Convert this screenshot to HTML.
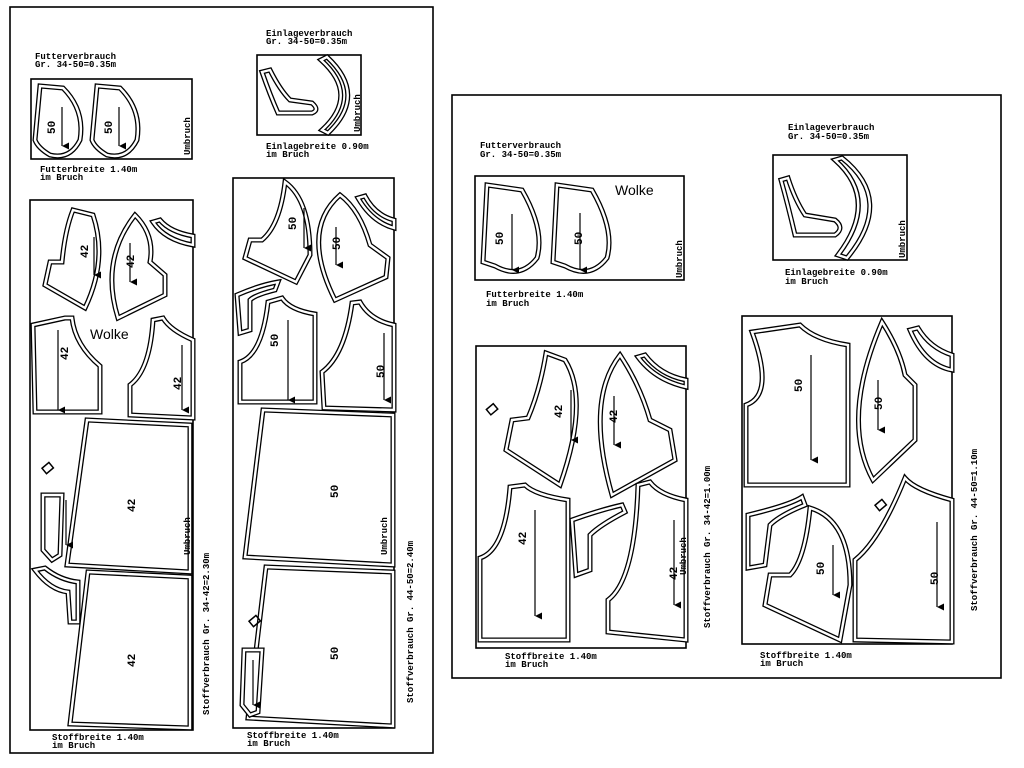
<!DOCTYPE html>
<html><head><meta charset="utf-8"><style>
body{margin:0;background:#fff;width:1024px;height:768px;overflow:hidden}
svg{display:block}
.o{fill:#fff;stroke:#000;stroke-width:5;stroke-linejoin:miter}
.i{fill:none;stroke:#fff;stroke-width:2.4}
.f{fill:none;stroke:#000;stroke-width:1.6}
.ar{stroke:#000;stroke-width:1.2;fill:none}
text{font-family:"Liberation Mono",monospace;font-weight:bold;fill:#000}
.t{font-size:9px}
.n{font-size:11px;font-family:"Liberation Sans",sans-serif;font-weight:normal}
.w{font-size:14px;font-family:"Liberation Sans",sans-serif;font-weight:normal}
</style></head><body>
<svg width="1024" height="768" viewBox="0 0 1024 768">
<defs>
<marker id="m" markerWidth="6" markerHeight="6" refX="3" refY="6" orient="auto-start-reverse" viewBox="0 0 6 6"><path d="M0,0 L3,6 L6,0 Z" fill="#000"/></marker>
<path id="a1" d="M40,86 L63,88 Q85,110 80,140 Q70,160 50,155 Q38,148 35,140 Z"/>
<path id="a2" d="M97,86 L120,88 Q142,110 137,140 Q127,160 107,155 Q95,148 92,140 Z"/>
<path id="b1" d="M262,72 L270,70 Q280,90 290,100 L312,103 Q320,110 312,113 L278,113 Q270,95 262,72 Z"/>
<path id="b2" d="M321,60 Q360,95 322,130 L328,133 Q368,95 327,57 Z"/>
<path id="c1" d="M73,210 L93,215 Q108,260 85,308 L45,285 L50,262 L62,262 Q65,230 73,210 Z"/>
<path id="c2" d="M135,215 Q155,235 150,262 L165,275 L165,295 L118,318 Q100,260 135,215 Z"/>
<path id="c3" d="M153,222 L160,220 Q170,232 193,236 L193,245 Q165,240 153,222 Z"/>
<path id="c4" d="M33,325 L65,318 L72,318 Q75,345 100,366 L100,412 L35,412 Z"/>
<path id="c5" d="M153,320 L163,318 Q170,330 193,340 L193,418 L130,415 L130,385 Q150,370 153,320 Z"/>
<path id="c6" d="M87,420 L190,425 L190,572 L67,565 Z"/>
<path id="c7" d="M88,572 L190,577 L190,728 L70,724 Z"/>
<path id="c8" d="M43,495 L62,495 L60,555 L52,560 L43,550 Z"/>
<path id="c9" d="M35,570 L45,568 Q60,580 78,582 L78,622 L70,622 L68,592 Q50,590 35,570 Z"/>
<path id="d1" d="M285,182 Q310,200 310,255 L296,282 L245,258 L250,240 L262,240 Q280,225 285,182 Z"/>
<path id="d2" d="M340,195 Q360,210 370,245 L388,258 L386,277 L335,300 Q300,230 340,195 Z"/>
<path id="d3" d="M358,198 L365,196 Q375,215 394,220 L394,228 Q372,222 358,198 Z"/>
<path id="d4" d="M237,295 Q260,285 278,282 L275,290 Q255,295 250,300 L250,330 L240,333 Z"/>
<path id="d5" d="M268,302 L282,298 Q290,310 315,314 L315,402 L240,402 L240,362 Q262,355 268,302 Z"/>
<path id="d6" d="M352,303 L360,302 Q370,320 394,325 L394,410 L324,408 L322,372 Q345,355 352,303 Z"/>
<path id="d7" d="M263,410 L393,415 L393,565 L245,557 Z"/>
<path id="d8" d="M266,567 L393,572 L393,726 L248,718 Z"/>
<path id="d9" d="M244,650 L262,650 L258,712 L250,715 L242,705 Z"/>
<path id="e1" d="M487,185 L522,190 Q545,230 537,258 Q520,280 495,266 L483,262 Z"/>
<path id="e2" d="M557,185 L592,190 Q615,230 607,258 Q590,280 565,266 L553,262 Z"/>
<path id="f1" d="M781,180 L788,178 Q795,200 805,215 L835,220 Q845,228 835,235 L795,235 Q788,205 781,180 Z"/>
<path id="f2" d="M835,160 Q880,200 838,255 L847,258 Q895,200 842,158 Z"/>
<path id="g1" d="M546,353 L565,360 Q590,400 560,485 L506,450 L512,420 L528,418 Q540,390 546,353 Z"/>
<path id="g2" d="M620,355 Q640,385 650,420 L670,430 L675,460 L612,495 Q585,400 620,355 Z"/>
<path id="g3" d="M638,357 L645,355 Q660,375 686,380 L686,387 Q655,380 638,357 Z"/>
<path id="g4" d="M510,487 L525,485 Q535,495 568,500 L568,640 L480,640 L480,558 Q505,550 510,487 Z"/>
<path id="g5" d="M572,520 Q600,510 622,505 L625,512 Q600,525 590,535 L590,570 L576,575 Z"/>
<path id="g6" d="M638,485 L650,482 Q660,495 686,500 L686,640 L608,632 L608,600 Q635,580 638,485 Z"/>
<path id="h1" d="M752,332 L800,325 Q815,340 848,345 L848,485 L746,485 L746,405 Q775,395 752,332 Z"/>
<path id="h2" d="M882,322 Q900,350 905,375 L915,385 L915,440 L873,480 Q840,420 882,322 Z"/>
<path id="h3" d="M910,330 L918,328 Q930,348 952,355 L952,370 Q925,365 910,330 Z"/>
<path id="h4" d="M748,515 Q790,505 802,497 L805,505 Q780,515 770,525 L765,565 L748,568 Z"/>
<path id="h5" d="M810,508 Q850,520 850,585 L840,640 L765,605 L770,575 L790,575 Q805,560 810,508 Z"/>
<path id="h6" d="M905,478 Q915,490 952,500 L952,642 L855,640 L855,560 Q880,540 905,478 Z"/>
</defs>
<rect x="10" y="7" width="423" height="746" class="f"/>
<rect x="452" y="95" width="549" height="583" class="f"/>
<rect x="31" y="79" width="161" height="80" class="f"/>
<rect x="257" y="55" width="104" height="80" class="f"/>
<rect x="30" y="200" width="163" height="530" class="f"/>
<rect x="233" y="178" width="161" height="550" class="f"/>
<rect x="475" y="176" width="209" height="104" class="f"/>
<rect x="773" y="155" width="134" height="105" class="f"/>
<rect x="476" y="346" width="210" height="302" class="f"/>
<rect x="742" y="316" width="210" height="328" class="f"/>
<g>
<use href="#a1" class="o"/><use href="#a1" class="i"/><use href="#a2" class="o"/><use href="#a2" class="i"/>
<use href="#b1" class="o"/><use href="#b1" class="i"/><use href="#b2" class="o"/><use href="#b2" class="i"/>
<use href="#c1" class="o"/><use href="#c1" class="i"/><use href="#c2" class="o"/><use href="#c2" class="i"/>
<use href="#c3" class="o"/><use href="#c3" class="i"/><use href="#c4" class="o"/><use href="#c4" class="i"/>
<use href="#c5" class="o"/><use href="#c5" class="i"/><use href="#c6" class="o"/><use href="#c6" class="i"/>
<use href="#c7" class="o"/><use href="#c7" class="i"/><use href="#c8" class="o"/><use href="#c8" class="i"/>
<use href="#c9" class="o"/><use href="#c9" class="i"/>
<use href="#d1" class="o"/><use href="#d1" class="i"/><use href="#d2" class="o"/><use href="#d2" class="i"/>
<use href="#d3" class="o"/><use href="#d3" class="i"/><use href="#d4" class="o"/><use href="#d4" class="i"/>
<use href="#d5" class="o"/><use href="#d5" class="i"/><use href="#d6" class="o"/><use href="#d6" class="i"/>
<use href="#d7" class="o"/><use href="#d7" class="i"/><use href="#d8" class="o"/><use href="#d8" class="i"/>
<use href="#d9" class="o"/><use href="#d9" class="i"/>
<use href="#e1" class="o"/><use href="#e1" class="i"/><use href="#e2" class="o"/><use href="#e2" class="i"/>
<use href="#f1" class="o"/><use href="#f1" class="i"/><use href="#f2" class="o"/><use href="#f2" class="i"/>
<use href="#g1" class="o"/><use href="#g1" class="i"/><use href="#g2" class="o"/><use href="#g2" class="i"/>
<use href="#g3" class="o"/><use href="#g3" class="i"/><use href="#g4" class="o"/><use href="#g4" class="i"/>
<use href="#g5" class="o"/><use href="#g5" class="i"/><use href="#g6" class="o"/><use href="#g6" class="i"/>
<use href="#h1" class="o"/><use href="#h1" class="i"/><use href="#h2" class="o"/><use href="#h2" class="i"/>
<use href="#h3" class="o"/><use href="#h3" class="i"/><use href="#h4" class="o"/><use href="#h4" class="i"/>
<use href="#h5" class="o"/><use href="#h5" class="i"/><use href="#h6" class="o"/><use href="#h6" class="i"/>
</g>
<g class="ar" marker-end="url(#m)">
<line x1="62" y1="107" x2="62" y2="146"/><line x1="119" y1="107" x2="119" y2="146"/>
<line x1="94" y1="237" x2="94" y2="275"/><line x1="130" y1="243" x2="130" y2="282"/>
<line x1="58" y1="330" x2="58" y2="410"/><line x1="182" y1="345" x2="182" y2="410"/>
<line x1="304" y1="208" x2="304" y2="248"/><line x1="336" y1="227" x2="336" y2="265"/>
<line x1="288" y1="320" x2="288" y2="400"/><line x1="384" y1="333" x2="384" y2="400"/>
<line x1="66" y1="500" x2="66" y2="545"/><line x1="253" y1="660" x2="253" y2="705"/>
<line x1="512" y1="214" x2="512" y2="270"/><line x1="580" y1="213" x2="580" y2="270"/>
<line x1="571" y1="390" x2="571" y2="440"/><line x1="614" y1="396" x2="614" y2="445"/>
<line x1="535" y1="510" x2="535" y2="616"/><line x1="674" y1="520" x2="674" y2="605"/>
<line x1="811" y1="355" x2="811" y2="460"/><line x1="878" y1="380" x2="878" y2="430"/>
<line x1="833" y1="545" x2="833" y2="595"/><line x1="937" y1="522" x2="937" y2="607"/>
</g>
<g class="t">
<text x="35" y="59">Futterverbrauch</text><text x="35" y="67">Gr. 34-50=0.35m</text>
<text x="266" y="36">Einlageverbrauch</text><text x="266" y="44">Gr. 34-50=0.35m</text>
<text x="266" y="149">Einlagebreite 0.90m</text><text x="266" y="157">im Bruch</text>
<text x="40" y="172">Futterbreite 1.40m</text><text x="40" y="180">im Bruch</text>
<text x="52" y="740">Stoffbreite 1.40m</text><text x="52" y="748">im Bruch</text>
<text x="247" y="738">Stoffbreite 1.40m</text><text x="247" y="746">im Bruch</text>
<text x="480" y="148">Futterverbrauch</text><text x="480" y="157">Gr. 34-50=0.35m</text>
<text x="788" y="130">Einlageverbrauch</text><text x="788" y="139">Gr. 34-50=0.35m</text>
<text x="785" y="275">Einlagebreite 0.90m</text><text x="785" y="284">im Bruch</text>
<text x="486" y="297">Futterbreite 1.40m</text><text x="486" y="306">im Bruch</text>
<text x="505" y="659">Stoffbreite 1.40m</text><text x="505" y="667">im Bruch</text>
<text x="760" y="658">Stoffbreite 1.40m</text><text x="760" y="666">im Bruch</text>
<text transform="translate(190,155) rotate(-90)">Umbruch</text>
<text transform="translate(360,132) rotate(-90)">Umbruch</text>
<text transform="translate(190,555) rotate(-90)">Umbruch</text>
<text transform="translate(387,555) rotate(-90)">Umbruch</text>
<text transform="translate(682,278) rotate(-90)">Umbruch</text>
<text transform="translate(905,258) rotate(-90)">Umbruch</text>
<text transform="translate(686,575) rotate(-90)">Umbruch</text>
<text transform="translate(209,715) rotate(-90)">Stoffverbrauch Gr. 34-42=2.30m</text>
<text transform="translate(413,703) rotate(-90)">Stoffverbrauch Gr. 44-50=2.40m</text>
<text transform="translate(710,628) rotate(-90)">Stoffverbrauch Gr. 34-42=1.00m</text>
<text transform="translate(977,611) rotate(-90)">Stoffverbrauch Gr. 44-50=1.10m</text>
</g>
<g class="n">
<text transform="translate(55,134) rotate(-90)">50</text><text transform="translate(112,134) rotate(-90)">50</text>
<text transform="translate(88,258) rotate(-90)">42</text><text transform="translate(134,268) rotate(-90)">42</text>
<text transform="translate(68,360) rotate(-90)">42</text><text transform="translate(181,390) rotate(-90)">42</text>
<text transform="translate(135,512) rotate(-90)">42</text><text transform="translate(135,667) rotate(-90)">42</text>
<text transform="translate(296,230) rotate(-90)">50</text><text transform="translate(340,250) rotate(-90)">50</text>
<text transform="translate(278,347) rotate(-90)">50</text><text transform="translate(384,378) rotate(-90)">50</text>
<text transform="translate(338,498) rotate(-90)">50</text><text transform="translate(338,660) rotate(-90)">50</text>
<text transform="translate(503,245) rotate(-90)">50</text><text transform="translate(582,245) rotate(-90)">50</text>
<text transform="translate(562,418) rotate(-90)">42</text><text transform="translate(617,423) rotate(-90)">42</text>
<text transform="translate(526,545) rotate(-90)">42</text><text transform="translate(677,580) rotate(-90)">42</text>
<text transform="translate(802,392) rotate(-90)">50</text><text transform="translate(882,410) rotate(-90)">50</text>
<text transform="translate(824,575) rotate(-90)">50</text><text transform="translate(938,585) rotate(-90)">50</text>
</g>
<text class="w" x="90" y="339">Wolke</text>
<text class="w" x="615" y="195">Wolke</text>
<g fill="none" stroke="#000" stroke-width="1.5">
<rect x="43" y="465" width="9" height="7" transform="rotate(-40 47 468)"/>
<rect x="250" y="618" width="9" height="7" transform="rotate(-40 254 621)"/>
<rect x="488" y="406" width="9" height="7" transform="rotate(-40 492 410)"/>
<rect x="876" y="502" width="9" height="7" transform="rotate(-40 880 505)"/>
</g>
</svg>
</body></html>
